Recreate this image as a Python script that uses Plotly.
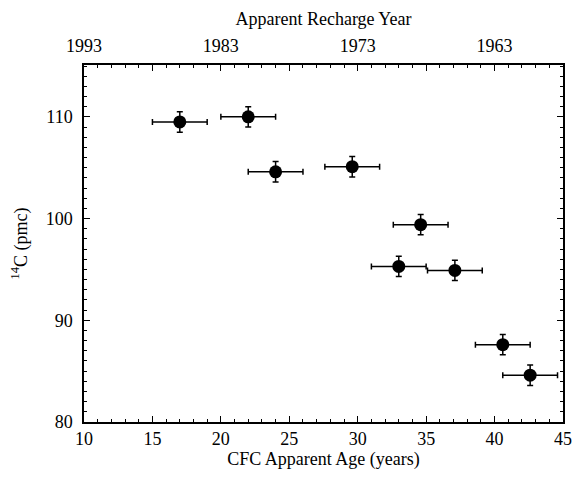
import plotly.graph_objects as go

# CFC apparent age (years) vs 14C (pmc), with error bars
cfc_age = [17.0, 22.0, 24.0, 29.6, 34.6, 33.0, 37.1, 40.6, 42.6]
c14_pmc = [109.5, 110.0, 104.6, 105.1, 99.4, 95.3, 94.9, 87.6, 84.6]
age_err = [2.0, 2.0, 2.0, 2.0, 2.0, 2.0, 2.0, 2.0, 2.0]
pmc_err = [1.0, 1.0, 1.0, 1.0, 1.0, 1.0, 1.0, 1.0, 1.0]

year_tick_ages = [10, 20, 30, 40]
year_tick_text = ["1993", "1983", "1973", "1963"]

FONT = "Liberation Serif"

fig = go.Figure()

fig.add_trace(go.Scatter(
    x=cfc_age, y=c14_pmc,
    mode="markers",
    marker=dict(color="black", size=13),
    error_x=dict(type="data", array=age_err, color="black", thickness=1.5, width=3),
    error_y=dict(type="data", array=pmc_err, color="black", thickness=1.5, width=3),
    showlegend=False,
))

# invisible trace so the top (year) axis gets drawn
fig.add_trace(go.Scatter(
    x=cfc_age, y=c14_pmc, xaxis="x2",
    mode="markers", marker=dict(opacity=0),
    hoverinfo="skip", showlegend=False,
))

tick_font = dict(family=FONT, size=18, color="black")
title_font = dict(family=FONT, size=18, color="black")

# page body has 8px margin; figure sized so the page doesn't scroll
fig.update_layout(
    width=564, height=465,
    margin=dict(l=76, r=9, t=57, b=51),
    plot_bgcolor="white",
    paper_bgcolor="white",
    font=dict(family=FONT, size=18, color="black"),
    xaxis=dict(
        range=[10, 45], dtick=5, tick0=10,
        ticks="inside", ticklen=6, tickwidth=1, tickcolor="black",
        minor=dict(dtick=1, ticks="inside", ticklen=3, tickcolor="black"),
        showline=True, linecolor="black", linewidth=1.5, mirror="ticks",
        showgrid=False, zeroline=False, automargin=False,
        tickfont=tick_font, ticklabelstandoff=0,
        title=dict(text="CFC Apparent Age (years)", font=title_font, standoff=1),
    ),
    xaxis2=dict(
        range=[10, 45], overlaying="x", side="top",
        tickvals=year_tick_ages, ticktext=year_tick_text,
        ticks="", showline=False, showgrid=False, zeroline=False, automargin=False,
        tickfont=tick_font, ticklabelstandoff=8,
        title=dict(text="Apparent Recharge Year", font=title_font, standoff=6),
    ),
    yaxis=dict(
        range=[80, 115.1], dtick=10, tick0=80,
        ticks="inside", ticklen=6, tickwidth=1, tickcolor="black",
        minor=dict(dtick=1, ticks="inside", ticklen=3, tickcolor="black"),
        showline=True, linecolor="black", linewidth=1.5, mirror="ticks",
        showgrid=False, zeroline=False, automargin=False,
        tickfont=tick_font, ticklabelstandoff=6,
        title=dict(text="<sup>14</sup>C (pmc)", font=title_font, standoff=14),
    ),
)

fig.write_html("out.html")
